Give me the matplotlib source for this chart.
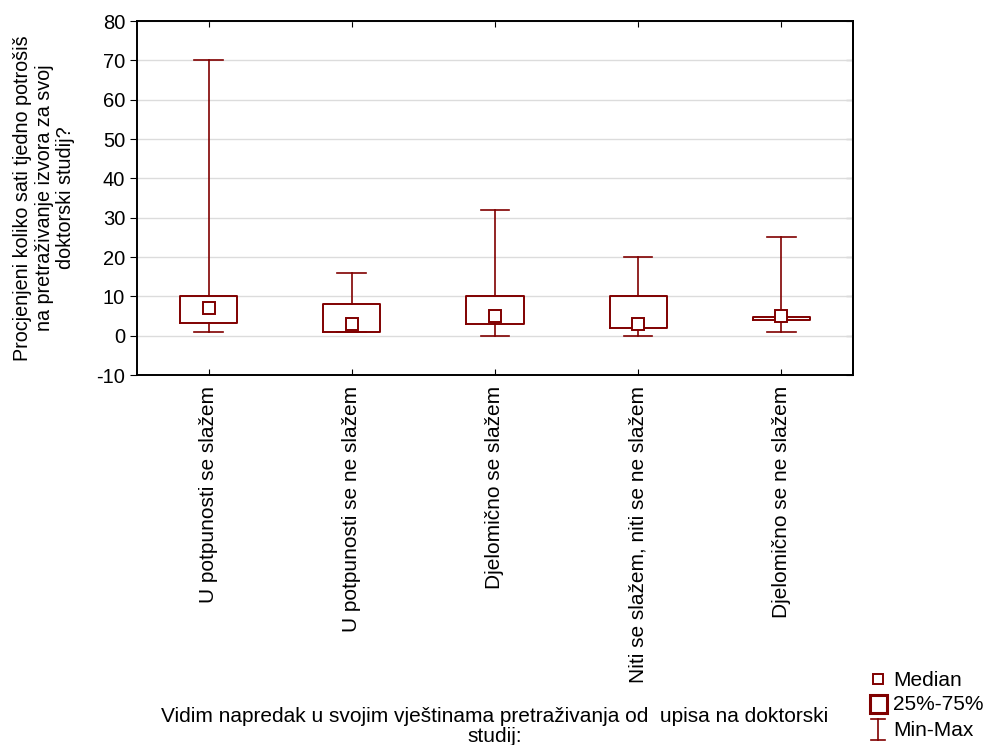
import matplotlib
matplotlib.use('Agg')
import matplotlib.pyplot as plt
from matplotlib.lines import Line2D
from matplotlib.patches import Rectangle

plt.rcParams['font.family'] = ['Liberation Sans', 'DejaVu Sans']
plt.rcParams['axes.unicode_minus'] = False

# podaci procijenjeni sa slike
kategorije = ['U potpunosti se slažem', 'U potpunosti se ne slažem', 'Djelomično se slažem',
              'Niti se slažem, niti se ne slažem', 'Djelomično se ne slažem']
minimum = [1, 1, 0, 0, 1]
q1 = [3.3, 1, 3, 2, 4]
medijan = [7, 3, 5, 3, 5]
q3 = [10, 8, 10, 10, 4.8]
maksimum = [70, 16, 32, 20, 25]
yticks = list(range(-10, 90, 10))

boja = '#800000'

fig = plt.figure(figsize=(9.86, 7.45), dpi=100)
ax = fig.add_axes([0.139, 0.4966, 0.726, 0.4752])

stats = []
for i in range(len(kategorije)):
    stats.append({'whislo': minimum[i], 'q1': q1[i], 'med': medijan[i],
                  'q3': q3[i], 'whishi': maksimum[i], 'label': kategorije[i]})

ax.bxp(stats, positions=range(1, 6), widths=0.4, showfliers=False,
       boxprops=dict(color=boja, linewidth=1.4),
       whiskerprops=dict(color=boja, linewidth=1.2),
       capprops=dict(color=boja, linewidth=1.2),
       medianprops=dict(linewidth=0), capwidths=0.2)
ax.plot(range(1, 6), medijan, 's', mfc='white', mec=boja, ms=8, mew=1.4, zorder=5)

ax.set_xlim(0.5, 5.5)
ax.set_ylim(-10, 80)
ax.set_yticks(yticks)
ax.set_xticks(range(1, 6))
ax.set_xticklabels(kategorije, rotation=90, fontsize=15)
ax.tick_params(axis='y', labelsize=14.5, direction='out', length=5)
ax.tick_params(axis='x', direction='in', length=4, top=True, pad=8)
desno = ax.secondary_yaxis('right')
desno.set_yticks(yticks)
desno.tick_params(direction='in', length=5, labelright=False)
ax.yaxis.grid(True, color='#dcdcdc', linewidth=1)
ax.set_axisbelow(True)
for s in ax.spines.values():
    s.set_linewidth(1.4)
desno.spines['right'].set_linewidth(1.4)

ax.set_ylabel('Procjenjeni koliko sati tjedno potrošiš\nna pretraživanje izvora za svoj\ndoktorski studij?',
              fontsize=14.2, linespacing=1.15)
ax.yaxis.set_label_coords(-0.087, 0.5)
fig.text(0.502, -0.002, 'Vidim napredak u svojim vještinama pretraživanja od  upisa na doktorski\nstudij:',
         ha='center', va='bottom', fontsize=15, linespacing=1.08)

# legenda, crtana u koordinatama slike
W, H = 986, 745
def fx(px):
    return px / W
def fy(py):
    return 1 - py / H

fig.add_artist(Line2D([fx(878)], [fy(679)], marker='s', ls='none', mfc='white', mec=boja,
                      ms=6.5, mew=1.4, transform=fig.transFigure))
fig.add_artist(Rectangle((fx(870), fy(713)), fx(17), 18 / H, fill=False, ec=boja, lw=2.2,
                         transform=fig.transFigure))
fig.add_artist(Line2D([fx(878), fx(878)], [fy(719), fy(740)], color=boja, lw=1.2,
                      transform=fig.transFigure))
fig.add_artist(Line2D([fx(871), fx(885)], [fy(719), fy(719)], color=boja, lw=1.2,
                      transform=fig.transFigure))
fig.add_artist(Line2D([fx(871), fx(885)], [fy(740), fy(740)], color=boja, lw=1.2,
                      transform=fig.transFigure))
for tekst, py in [('Median', 680), ('25%-75%', 705), ('Min-Max', 730)]:
    fig.text(fx(893), fy(py), tekst, ha='left', va='center', fontsize=15)

fig.savefig('out.png', dpi=100)
